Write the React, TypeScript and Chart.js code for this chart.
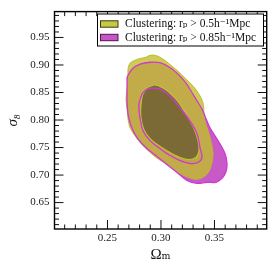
import React, { useEffect, useRef } from 'react';
import { Chart, registerables } from 'chart.js';

Chart.register(...registerables);

const FONT = '"Liberation Serif", "DejaVu Serif", serif';

const seriesLabels = ['Clustering: rₚ > 0.5h⁻¹Mpc', 'Clustering: rₚ > 0.85h⁻¹Mpc'];

const xTickValues = [0.25, 0.3, 0.35];
const xTickLabels = ['0.25', '0.30', '0.35'];
const yTickValues = [0.65, 0.7, 0.75, 0.8, 0.85, 0.9, 0.95];
const yTickLabels = ['0.65', '0.70', '0.75', '0.80', '0.85', '0.90', '0.95'];

// Yellow (r_p > 0.5) 95% contour
const yellowOuterX = [0.2860, 0.2898, 0.2944, 0.2991, 0.3047, 0.3103, 0.3159, 0.3225, 0.3299, 0.3355, 0.3393, 0.3402, 0.3411, 0.3440, 0.3468, 0.3486, 0.3477, 0.3449, 0.3393, 0.3327, 0.3253, 0.3178, 0.3103, 0.3028, 0.2954, 0.2879, 0.2813, 0.2757, 0.2711, 0.2692, 0.2683, 0.2673, 0.2683, 0.2692, 0.2692, 0.2711, 0.2757, 0.2813];
const yellowOuterY = [0.9140, 0.9176, 0.9176, 0.9140, 0.9068, 0.8978, 0.8888, 0.8761, 0.8617, 0.8473, 0.8311, 0.8130, 0.7986, 0.7805, 0.7607, 0.7409, 0.7228, 0.7066, 0.6958, 0.6922, 0.6958, 0.7030, 0.7120, 0.7228, 0.7318, 0.7445, 0.7571, 0.7715, 0.7860, 0.8022, 0.8202, 0.8383, 0.8563, 0.8762, 0.8924, 0.9032, 0.9086, 0.9122];

// Yellow 68% contour
const yellowInnerX = [0.2879, 0.2944, 0.3019, 0.3094, 0.3169, 0.3243, 0.3309, 0.3346, 0.3355, 0.3327, 0.3262, 0.3178, 0.3084, 0.2982, 0.2898, 0.2841, 0.2813, 0.2813, 0.2832];
const yellowInnerY = [0.8599, 0.8635, 0.8581, 0.8473, 0.8311, 0.8076, 0.7841, 0.7625, 0.7445, 0.7319, 0.7283, 0.7319, 0.7409, 0.7535, 0.7661, 0.7824, 0.8040, 0.8274, 0.8473];

// Magenta (r_p > 0.85) 95% contour
const magentaOuterX = [0.2683, 0.2729, 0.2804, 0.2898, 0.2991, 0.3094, 0.3178, 0.3234, 0.3281, 0.3337, 0.3383, 0.3421, 0.3458, 0.3533, 0.3598, 0.3617, 0.3608, 0.3570, 0.3514, 0.3430, 0.3337, 0.3243, 0.3150, 0.3056, 0.2963, 0.2869, 0.2776, 0.2720, 0.2692, 0.2683, 0.2683];
const magentaOuterY = [0.8780, 0.8924, 0.9014, 0.9050, 0.9041, 0.8942, 0.8798, 0.8671, 0.8527, 0.8347, 0.8202, 0.8022, 0.7860, 0.7625, 0.7391, 0.7210, 0.7066, 0.6940, 0.6868, 0.6868, 0.6849, 0.6904, 0.7048, 0.7192, 0.7337, 0.7481, 0.7679, 0.7896, 0.8112, 0.8347, 0.8563];

// Magenta 68% contour
const magentaInnerX = [0.2823, 0.2869, 0.2926, 0.2991, 0.3084, 0.3178, 0.3271, 0.3337, 0.3365, 0.3383, 0.3346, 0.3271, 0.3178, 0.3084, 0.2991, 0.2898, 0.2832, 0.2804, 0.2794];
const magentaInnerY = [0.8473, 0.8563, 0.8581, 0.8563, 0.8437, 0.8220, 0.7986, 0.7751, 0.7499, 0.7319, 0.7228, 0.7210, 0.7264, 0.7355, 0.7481, 0.7625, 0.7806, 0.8040, 0.8292];

const X_MIN = 0.2005;
const X_MAX = 0.3988;
const Y_MIN = 0.602;
const Y_MAX = 0.997;

function closed(xs: number[], ys: number[]) {
  const pts = xs.map((x, i) => ({ x, y: ys[i] }));
  pts.push({ x: xs[0], y: ys[0] });
  return pts;
}

function fillSet(pts: any[], color: string, order: number) {
  return {
    data: pts,
    showLine: true,
    fill: 'shape',
    backgroundColor: color,
    borderColor: 'rgba(0,0,0,0)',
    borderWidth: 0,
    pointRadius: 0,
    tension: 0.35,
    order,
  };
}

function lineSet(pts: any[], color: string, width: number, order: number) {
  return {
    data: pts,
    showLine: true,
    fill: false,
    backgroundColor: 'rgba(0,0,0,0)',
    borderColor: color,
    borderWidth: width,
    pointRadius: 0,
    tension: 0.35,
    order,
  };
}

const framePlugin = {
  id: 'frameTicks',
  afterDatasetsDraw(chart: any) {
    const { ctx, chartArea } = chart;
    const { left, right, top, bottom } = chartArea;
    const xs = chart.scales.x;
    const ys = chart.scales.y;
    ctx.save();
    ctx.strokeStyle = '#111';
    ctx.lineWidth = 1;
    ctx.beginPath();
    for (let k = 21; k <= 39; k++) {
      const v = k / 100;
      const major = k % 5 === 0;
      const len = major ? 9 : 4.5;
      const px = xs.getPixelForValue(v);
      ctx.moveTo(px, bottom);
      ctx.lineTo(px, bottom - len);
      ctx.moveTo(px, top);
      ctx.lineTo(px, top + len);
    }
    for (let k = 61; k <= 99; k++) {
      const v = k / 100;
      const major = k % 5 === 0;
      const len = major ? 9 : 4.5;
      const py = ys.getPixelForValue(v);
      ctx.moveTo(left, py);
      ctx.lineTo(left + len, py);
      ctx.moveTo(right, py);
      ctx.lineTo(right - len, py);
    }
    ctx.stroke();
    ctx.lineWidth = 1.4;
    ctx.strokeStyle = '#000';
    ctx.strokeRect(left, top, right - left, bottom - top);
    ctx.restore();
  },
};

const legendPlugin = {
  id: 'boxLegend',
  afterDraw(chart: any) {
    const ctx = chart.ctx;
    ctx.save();
    const bx = 97.5;
    const by = 14;
    const bw = 166;
    const bh = 32;
    ctx.fillStyle = '#ffffff';
    ctx.fillRect(bx, by, bw, bh);
    ctx.strokeStyle = '#000';
    ctx.lineWidth = 1;
    ctx.strokeRect(bx, by, bw, bh);
    const rows = [
      { y: 24, fill: 'rgb(200,200,70)', edge: 'rgb(60,60,15)', label: seriesLabels[0] },
      { y: 37.5, fill: 'rgb(200,85,200)', edge: 'rgb(80,20,80)', label: seriesLabels[1] },
    ];
    for (const r of rows) {
      ctx.fillStyle = r.fill;
      ctx.fillRect(100.5, r.y - 3.2, 17.5, 6.4);
      ctx.strokeStyle = r.edge;
      ctx.lineWidth = 1;
      ctx.strokeRect(100.5, r.y - 3.2, 17.5, 6.4);
      ctx.fillStyle = '#111';
      ctx.font = `11.5px ${FONT}`;
      ctx.textBaseline = 'middle';
      ctx.textAlign = 'left';
      ctx.fillText(r.label, 125, r.y);
    }
    ctx.restore();
  },
};

export default function App() {
  const ref = useRef<HTMLCanvasElement>(null);

  useEffect(() => {
    const canvas = ref.current;
    if (!canvas) return;
    const yo = closed(yellowOuterX, yellowOuterY);
    const yi = closed(yellowInnerX, yellowInnerY);
    const mo = closed(magentaOuterX, magentaOuterY);
    const mi = closed(magentaInnerX, magentaInnerY);

    const chart = new Chart(canvas, {
      type: 'line',
      data: {
        datasets: [
          fillSet(mo, 'rgb(200,90,200)', 20),
          fillSet(mi, 'rgb(170,60,170)', 19),
          fillSet(yo, 'rgba(192,192,42,0.8)', 18),
          fillSet(yi, 'rgba(106,91,50,0.8)', 17),
          lineSet(yo, 'rgba(185,185,40,0.9)', 1, 6),
          lineSet(yi, 'rgb(195,195,60)', 1.1, 5),
          lineSet(mo, 'rgb(210,55,210)', 1.3, 4),
          lineSet(mi, 'rgb(210,55,210)', 1.3, 3),
        ] as any,
      },
      options: {
        responsive: false,
        animation: false,
        devicePixelRatio: 1,
        events: [],
        layout: { padding: { top: 10, right: 10.3, left: 0, bottom: 0 } },
        plugins: {
          legend: { display: false },
          tooltip: { enabled: false },
        },
        elements: { point: { radius: 0 } },
        scales: {
          x: {
            type: 'linear',
            min: X_MIN,
            max: X_MAX,
            afterBuildTicks: (s: any) => {
              s.ticks = xTickValues.map((v) => ({ value: v }));
            },
            afterFit: (s: any) => {
              s.height = 44;
            },
            grid: { display: false, drawTicks: false },
            border: { display: false },
            ticks: {
              autoSkip: false,
              maxRotation: 0,
              padding: 2.4,
              color: '#222',
              font: { family: FONT, size: 11 },
              callback: (_v: any, i: number) => xTickLabels[i],
            },
            title: {
              display: true,
              text: 'Ωₘ',
              color: '#111',
              font: { family: FONT, size: 15 },
              padding: { top: 0, bottom: 9 },
            },
          },
          y: {
            type: 'linear',
            min: Y_MIN,
            max: Y_MAX,
            afterBuildTicks: (s: any) => {
              s.ticks = yTickValues.map((v) => ({ value: v }));
            },
            afterFit: (s: any) => {
              s.width = 54.5;
            },
            grid: { display: false, drawTicks: false },
            border: { display: false },
            ticks: {
              autoSkip: false,
              padding: 5,
              color: '#222',
              font: { family: FONT, size: 11 },
              callback: (_v: any, i: number) => yTickLabels[i],
            },
            title: {
              display: true,
              text: 'σ₈',
              color: '#111',
              font: { family: FONT, size: 15, style: 'italic' },
              padding: { top: 4, bottom: 0 },
            },
          },
        },
      } as any,
      plugins: [framePlugin, legendPlugin],
    });
    return () => chart.destroy();
  }, []);

  return (
    <div style={{ position: 'fixed', left: 0, top: 0, width: 277, height: 273, background: '#fff' }}>
      <canvas ref={ref} width={277} height={273} style={{ display: 'block', width: 277, height: 273 }} />
    </div>
  );
}
